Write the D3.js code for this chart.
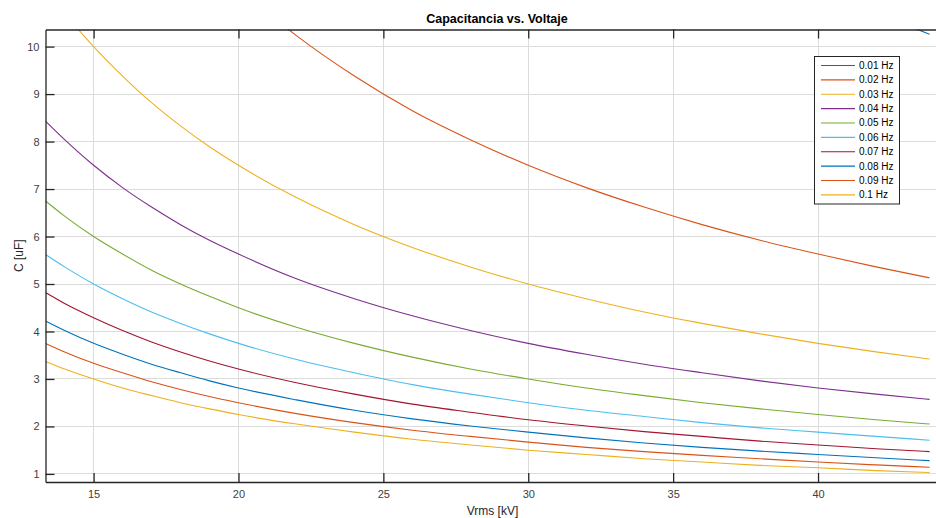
<!DOCTYPE html>
<html>
<head>
<meta charset="utf-8">
<script src="https://cdn.jsdelivr.net/npm/d3@7"></script>
<style>
  body { margin: 0; background: #fff; }
  svg { display: block; font-family: "Liberation Sans", Arial, sans-serif; }
</style>
</head>
<body>
<div id="chart"></div>
<script>
// Voltage samples (kV) and capacitance (uF)
var vrms = [13.34, 14, 15, 16, 17, 18, 19, 20, 22, 24, 26, 28, 30, 32, 34, 36, 38, 40, 42, 43.85];

var freqLabels = ["0.01 Hz", "0.02 Hz", "0.03 Hz", "0.04 Hz", "0.05 Hz",
                  "0.06 Hz", "0.07 Hz", "0.08 Hz", "0.09 Hz", "0.1 Hz"];

var c001 = [33.73, 32.14, 30.00, 28.13, 26.47, 25.00, 23.68, 22.50, 20.45, 18.75, 17.31, 16.07, 15.00, 14.06, 13.24, 12.50, 11.84, 11.25, 10.71, 10.26];
var c002 = [16.87, 16.07, 15.00, 14.06, 13.24, 12.50, 11.84, 11.25, 10.23, 9.38, 8.65, 8.04, 7.50, 7.03, 6.62, 6.25, 5.92, 5.63, 5.36, 5.13];
var c003 = [11.24, 10.71, 10.00, 9.38, 8.82, 8.33, 7.89, 7.50, 6.82, 6.25, 5.77, 5.36, 5.00, 4.69, 4.41, 4.17, 3.95, 3.75, 3.57, 3.42];
var c004 = [8.43, 8.04, 7.50, 7.03, 6.62, 6.25, 5.92, 5.63, 5.11, 4.69, 4.33, 4.02, 3.75, 3.52, 3.31, 3.13, 2.96, 2.81, 2.68, 2.57];
var c005 = [6.75, 6.43, 6.00, 5.63, 5.29, 5.00, 4.74, 4.50, 4.09, 3.75, 3.46, 3.21, 3.00, 2.81, 2.65, 2.50, 2.37, 2.25, 2.14, 2.05];
var c006 = [5.62, 5.36, 5.00, 4.69, 4.41, 4.17, 3.95, 3.75, 3.41, 3.13, 2.88, 2.68, 2.50, 2.34, 2.21, 2.08, 1.97, 1.88, 1.79, 1.71];
var c007 = [4.82, 4.59, 4.29, 4.02, 3.78, 3.57, 3.38, 3.21, 2.92, 2.68, 2.47, 2.30, 2.14, 2.01, 1.89, 1.79, 1.69, 1.61, 1.53, 1.47];
var c008 = [4.22, 4.02, 3.75, 3.52, 3.31, 3.13, 2.96, 2.81, 2.56, 2.34, 2.16, 2.01, 1.88, 1.76, 1.65, 1.56, 1.48, 1.41, 1.34, 1.28];
var c009 = [3.75, 3.57, 3.33, 3.13, 2.94, 2.78, 2.63, 2.50, 2.27, 2.08, 1.92, 1.79, 1.67, 1.56, 1.47, 1.39, 1.32, 1.25, 1.19, 1.14];
var c010 = [3.37, 3.21, 3.00, 2.81, 2.65, 2.50, 2.37, 2.25, 2.05, 1.88, 1.73, 1.61, 1.50, 1.41, 1.32, 1.25, 1.18, 1.13, 1.07, 1.03];

var xTicks = [15, 20, 25, 30, 35, 40];
var yTicks = [1, 2, 3, 4, 5, 6, 7, 8, 9, 10];

// matlab default colour order, repeats after 7
var colors = ["#0072BD", "#D95319", "#EDB120", "#7E2F8E", "#77AC30", "#4DBEEE", "#A2142F",
              "#0072BD", "#D95319", "#EDB120"];

var series = [c001, c002, c003, c004, c005, c006, c007, c008, c009, c010].map(function(vals, i) {
  return { name: freqLabels[i], color: colors[i],
           points: vals.map(function(c, j) { return { v: vrms[j], c: c }; }) };
});

var width = 936, height = 518;
var margin = { top: 29.5, right: -2, bottom: 36, left: 45.5 };
var iw = width - margin.left - margin.right,
    ih = height - margin.top - margin.bottom;

var svg = d3.select("#chart").append("svg")
  .attr("width", width)
  .attr("height", height);

var x = d3.scaleLinear().domain([13.34, 44.14]).range([0, iw]);
var y = d3.scaleLinear().domain([0.83, 10.36]).range([ih, 0]);

var g = svg.append("g").attr("transform", "translate(" + margin.left + "," + margin.top + ")");

g.append("clipPath").attr("id", "clip")
  .append("rect").attr("width", iw).attr("height", ih);

// grid
g.append("g").selectAll("line.gx").data(xTicks).enter().append("line")
  .attr("x1", function(d) { return x(d); }).attr("x2", function(d) { return x(d); })
  .attr("y1", 0).attr("y2", ih)
  .style("stroke", "#dcdcdc").style("stroke-width", 1).attr("shape-rendering", "crispEdges");
g.append("g").selectAll("line.gy").data(yTicks).enter().append("line")
  .attr("y1", function(d) { return y(d); }).attr("y2", function(d) { return y(d); })
  .attr("x1", 0).attr("x2", iw)
  .style("stroke", "#dcdcdc").style("stroke-width", 1).attr("shape-rendering", "crispEdges");

// curves
var line = d3.line()
  .x(function(d) { return x(d.v); })
  .y(function(d) { return y(d.c); })
  .curve(d3.curveMonotoneX);

g.append("g").attr("clip-path", "url(#clip)")
  .selectAll("path.curve").data(series).enter().append("path")
  .attr("class", "curve")
  .attr("d", function(d) { return line(d.points); })
  .style("fill", "none")
  .style("stroke", function(d) { return d.color; })
  .style("stroke-width", 1.1);

// axes (ticks pointing inward, matlab box style)
var xAxis = g.append("g").attr("transform", "translate(0," + ih + ")")
  .call(d3.axisBottom(x).tickValues(xTicks).tickSizeInner(-9).tickSizeOuter(0).tickPadding(8));
var xTop = g.append("g")
  .call(d3.axisTop(x).tickValues(xTicks).tickSizeInner(-9).tickSizeOuter(0).tickFormat(""));
var yAxis = g.append("g")
  .call(d3.axisLeft(y).tickValues(yTicks).tickSizeInner(-9).tickSizeOuter(0).tickPadding(6));

[xAxis, xTop, yAxis].forEach(function(a) {
  a.select(".domain").style("stroke", "#262626").style("stroke-width", 1.3);
  a.selectAll(".tick line").style("stroke", "#262626").style("stroke-width", 1.3);
  a.selectAll(".tick text").style("fill", "#404040").style("font-size", "11px")
   .style("font-family", "Liberation Sans, Arial, sans-serif");
});

// titles
svg.append("text")
  .attr("x", 497).attr("y", 23)
  .attr("text-anchor", "middle")
  .style("font-size", "12.5px").style("font-weight", "bold").style("fill", "#000")
  .text("Capacitancia vs. Voltaje");

svg.append("text")
  .attr("x", 492.5).attr("y", 514.5)
  .attr("text-anchor", "middle")
  .style("font-size", "12px").style("fill", "#262626")
  .text("Vrms [kV]");

svg.append("text")
  .attr("transform", "translate(23," + (margin.top + ih / 2) + ") rotate(-90)")
  .attr("text-anchor", "middle")
  .style("font-size", "12px").style("fill", "#262626")
  .text("C [uF]");

// legend
var legend = svg.append("g").attr("transform", "translate(814.5,56.5)");
legend.append("rect")
  .attr("width", 85).attr("height", 147.5)
  .style("fill", "#fff").style("stroke", "#262626").style("stroke-width", 1);

var item = legend.selectAll("g.item").data(series).enter().append("g")
  .attr("transform", function(d, i) { return "translate(0," + (9 + i * 14.37) + ")"; });
item.append("line")
  .attr("x1", 6.5).attr("x2", 40.5)
  .style("stroke", function(d) { return d.color; })
  .style("stroke-width", 1.1);
item.append("text")
  .attr("x", 44.5).attr("y", 3.5)
  .style("font-size", "10px").style("fill", "#000")
  .text(function(d) { return d.name; });
</script>
</body>
</html>
